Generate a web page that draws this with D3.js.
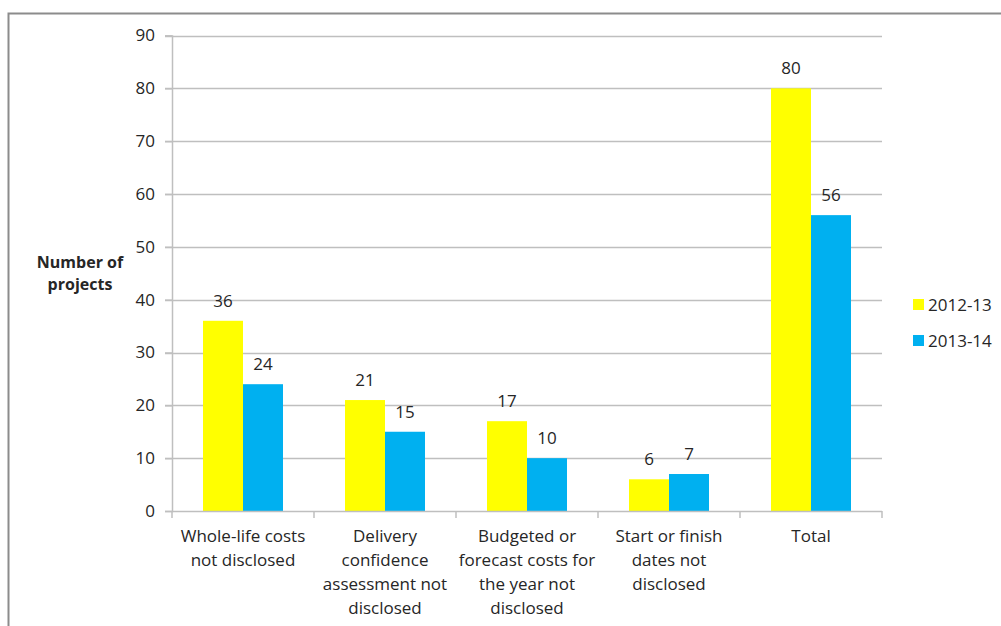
<!DOCTYPE html>
<html>
<head>
<meta charset="utf-8">
<script src="https://cdn.jsdelivr.net/npm/d3@7"></script>
<style>
  html, body { margin: 0; padding: 0; background: #fff; }
  svg { display: block; }
  text { font-family: "Open Sans", "Noto Sans", sans-serif; fill: #262626; }
</style>
</head>
<body>
<svg id="chart" width="1001" height="626"></svg>
<script>
// Projects with missing information, by category and year
const categories = [
  ["Whole-life costs", "not disclosed"],
  ["Delivery", "confidence", "assessment not", "disclosed"],
  ["Budgeted or", "forecast costs for", "the year not", "disclosed"],
  ["Start or finish", "dates not", "disclosed"],
  ["Total"]
];
const seriesNames = ["2012-13", "2013-14"];
const values2012 = [36, 21, 17, 6, 80];
const values2013 = [24, 15, 10, 7, 56];
const yTicks = [0, 10, 20, 30, 40, 50, 60, 70, 80, 90];
const colors = ["#ffff00", "#00b0f0"];

const svg = d3.select("#chart");
const fs = 17;

// outer frame (left and top edges)
svg.append("path")
  .attr("d", "M8.5,626 V13.5 H1001")
  .attr("fill", "none")
  .attr("stroke", "#8c8c8c")
  .attr("stroke-width", 2);

const plotLeft = 172, plotRight = 882, plotTop = 35.5, plotBottom = 511;

const x = d3.scaleBand().domain(d3.range(categories.length)).range([plotLeft, plotRight]);
const y = d3.scaleLinear().domain([0, 90]).range([plotBottom, plotTop]);

// gridlines
svg.append("g").selectAll("line").data(yTicks.filter(d => d > 0)).join("line")
  .attr("x1", plotLeft - 7).attr("x2", plotRight)
  .attr("y1", d => Math.round(y(d)) + 0.5).attr("y2", d => Math.round(y(d)) + 0.5)
  .attr("stroke", "#bfbfbf").attr("stroke-width", 1.5);

// y axis
const yAxis = svg.append("g").attr("transform", `translate(${plotLeft},0)`)
  .call(d3.axisLeft(y).tickValues(yTicks).tickSize(7).tickPadding(10));
yAxis.select(".domain").attr("stroke", "#bfbfbf").attr("stroke-width", 1.5);
yAxis.selectAll(".tick line").attr("stroke", "#bfbfbf").attr("stroke-width", 1.5);
yAxis.selectAll(".tick text").attr("font-size", fs).attr("fill", "#262626")
  .attr("font-family", "'Open Sans', 'Noto Sans', sans-serif");

// bars
const series = [values2012, values2013];
const barW = 40;
series.forEach((vals, s) => {
  svg.append("g").selectAll("rect").data(vals).join("rect")
    .attr("x", (d, i) => x(i) + x.bandwidth() / 2 - barW + s * barW)
    .attr("width", barW)
    .attr("y", d => y(d))
    .attr("height", d => y(0) - y(d))
    .attr("fill", colors[s]);
  svg.append("g").selectAll("text").data(vals).join("text")
    .attr("x", (d, i) => x(i) + x.bandwidth() / 2 - barW / 2 + s * barW)
    .attr("y", d => y(d) - 14)
    .attr("text-anchor", "middle")
    .attr("font-size", fs)
    .text(d => d);
});

// x axis baseline and category ticks
svg.append("line").attr("x1", plotLeft).attr("x2", plotRight)
  .attr("y1", plotBottom + 0.5).attr("y2", plotBottom + 0.5)
  .attr("stroke", "#bfbfbf").attr("stroke-width", 1.5);
svg.append("g").selectAll("line").data(d3.range(categories.length + 1)).join("line")
  .attr("x1", i => plotLeft + i * x.bandwidth()).attr("x2", i => plotLeft + i * x.bandwidth())
  .attr("y1", plotBottom).attr("y2", plotBottom + 7)
  .attr("stroke", "#bfbfbf").attr("stroke-width", 1.5);

// category labels
const catG = svg.append("g").selectAll("text").data(categories).join("text")
  .attr("text-anchor", "middle")
  .attr("font-size", fs)
  .attr("x", (d, i) => x(i) + x.bandwidth() / 2)
  .attr("y", 542);
catG.selectAll("tspan").data(d => d).join("tspan")
  .attr("x", function () { return d3.select(this.parentNode).attr("x"); })
  .attr("dy", (d, j) => j === 0 ? 0 : 24)
  .text(d => d);

// y axis title
const yt = svg.append("text").attr("text-anchor", "middle").attr("font-size", 16)
  .attr("font-weight", "bold").attr("x", 80).attr("y", 268);
yt.append("tspan").attr("x", 80).text("Number of");
yt.append("tspan").attr("x", 80).attr("dy", 22).text("projects");

// legend
const lg = svg.append("g").selectAll("g").data(seriesNames).join("g")
  .attr("transform", (d, i) => `translate(913,${299 + i * 36})`);
lg.append("rect").attr("width", 11).attr("height", 11).attr("fill", (d, i) => colors[i]);
lg.append("text").attr("x", 15).attr("y", 12).attr("font-size", fs).text(d => d);
</script>
</body>
</html>
